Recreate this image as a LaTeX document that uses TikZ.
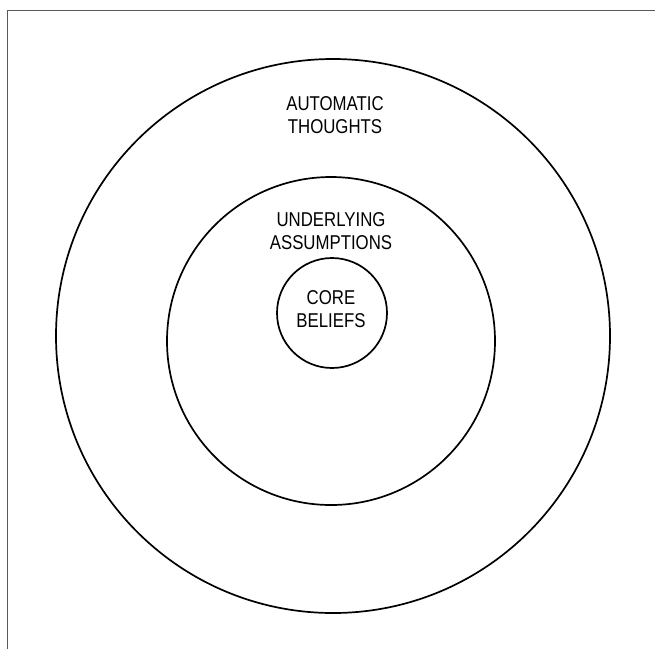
\documentclass[tikz,border=0pt]{standalone}
\usepackage{fontspec}
\setmainfont{Liberation Sans}[FakeStretch=0.84]
\begin{document}
\begin{tikzpicture}[x=1pt,y=-1pt,
  ring/.style={draw=black,line width=1.7pt,circle,inner sep=0pt},
  lbl/.style={align=center,font=\fontsize{20}{23.5}\selectfont,inner sep=0pt},
  frame/.style={draw=black!65,line width=1pt}]
\useasboundingbox (0,0) rectangle (655,649);
\coordinate (tl) at (7.5,10);
\coordinate (tr) at (655,10);
\coordinate (bl) at (7.5,649);
\draw[frame] (tr) -- (tl) -- (bl);
\node[ring,minimum size=554pt] (outer) at (333,336) {};
\node[ring,minimum size=328pt] (middle) at (331,341) {};
\node[ring,minimum size=110pt] (inner) at (332,313) {};
\node[lbl] (auto) at (335,115) {AUTOMATIC\\THOUGHTS};
\node[lbl] (under) at (331,231) {UNDERLYING\\ASSUMPTIONS};
\node[lbl] (core) at (331,309) {CORE\\BELIEFS};
\end{tikzpicture}
\end{document}
